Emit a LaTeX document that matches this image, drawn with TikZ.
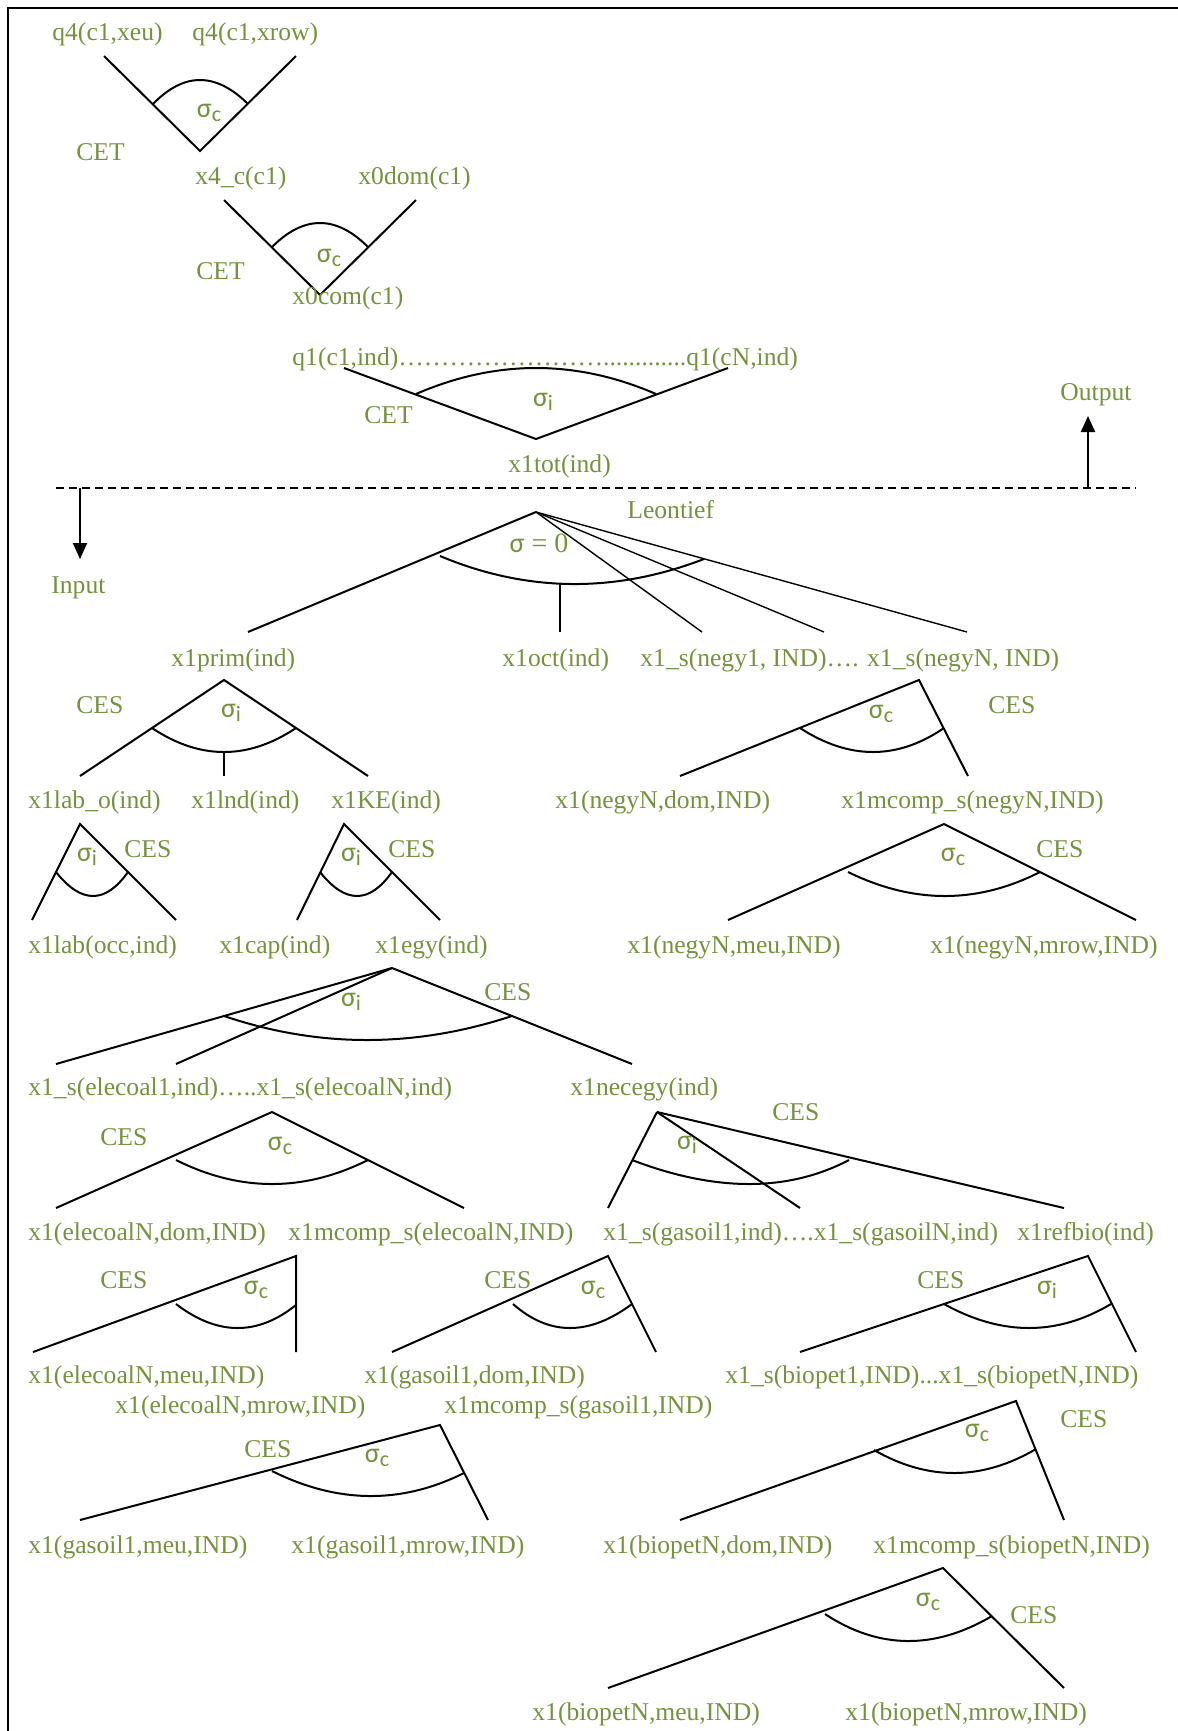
\documentclass[tikz,border=0pt]{standalone}
\usepackage{fontspec}
\setmainfont{Liberation Serif}
\newfontfamily\sigf{Carlito}
\usetikzlibrary{calc,arrows.meta}
\definecolor{lblgreen}{HTML}{76923C}
\newcommand{\sg}[1]{{\sigf\fontsize{14}{14}\selectfont σ\raisebox{-2pt}{\fontsize{11}{11}\selectfont #1}}}
\newcommand{\ellfour}{…\kern0pt…\kern0pt…\kern0pt…}
% arc helper: name, end A, end B, extreme point T
\newcommand{\sarc}[4]{%
  \coordinate (#1a) at #2; \coordinate (#1b) at #3; \coordinate (#1t) at #4;
  \coordinate (#1m) at ($(#1a)!0.5!(#1b)$);
  \coordinate (#1c) at ($(#1t)!-1!(#1m)$);
  \draw[tree] (#1a) .. controls ($(#1a)!0.6667!(#1c)$) and ($(#1b)!0.6667!(#1c)$) .. (#1b);}
\begin{document}
\begin{tikzpicture}[x=0.5pt,y=-0.5pt,
  lbl/.style={text=lblgreen,font=\fontsize{12.8}{14}\selectfont,inner sep=0pt,anchor=base west},
  sig/.style={text=lblgreen,inner sep=0pt,anchor=center},
  tree/.style={line width=1pt,black},
  border/.style={line width=1pt,black},
  arr/.style={line width=1pt,-{Triangle[length=8pt,width=7pt]}},
  dline/.style={line width=1pt,dash pattern=on 4pt off 2.5pt}]
\useasboundingbox (0,0) rectangle (1178,1731);
\coordinate (fbl) at (7.5,1731); \coordinate (ftl) at (7.5,7.5); \coordinate (ftr) at (1178,7.5);
\draw[border] (fbl) -- (ftl) -- (ftr);

% ---------- top CET nests ----------
\node[lbl] (q4eu) at (52,40) {q4(c1,xeu)};
\node[lbl] (q4row) at (192,40) {q4(c1,xrow)};
\coordinate (v1l) at (104,56); \coordinate (v1b) at (200,151); \coordinate (v1r) at (296,56);
\draw[tree] (v1l) -- (v1b) -- (v1r);
\sarc{a1}{(153,104)}{(248,104)}{(200,80)}
\node[sig] (s1) at (209,113) {\sg{c}};
\node[lbl] (cet1) at (76,160) {CET};

\node[lbl] (x4c) at (195,184) {x4\_c(c1)};
\node[lbl] (x0dom) at (358,184) {x0dom(c1)};
\coordinate (v2l) at (224,200); \coordinate (v2b) at (320,295); \coordinate (v2r) at (416,200);
\draw[tree] (v2l) -- (v2b) -- (v2r);
\sarc{a2}{(272,247)}{(368,247)}{(320,223)}
\node[sig] (s2) at (329,258) {\sg{c}};
\node[lbl] (cet2) at (196,279) {CET};
\node[lbl] (x0com) at (292,304) {x0com(c1)};

\node[lbl] (q1) at (292,365) {q1(c1,ind)\ellfour\ellfour.............q1(cN,ind)};
\coordinate (v3l) at (344,368); \coordinate (v3b) at (536,439); \coordinate (v3r) at (728,368);
\draw[tree] (v3l) -- (v3b) -- (v3r);
\sarc{a3}{(416,394)}{(656,394)}{(536,368)}
\node[sig] (s3) at (543,402) {\sg{i}};
\node[lbl] (cet3) at (364,423) {CET};
\node[lbl] (x1tot) at (508,472) {x1tot(ind)};

% ---------- separator ----------
\node[lbl] (outp) at (1060,400) {Output};
\coordinate (dl) at (56,488); \coordinate (dr) at (1136,488);
\draw[dline] (dl) -- (dr);
\coordinate (outb) at (1088,488); \coordinate (outt) at (1088,416);
\draw[arr] (outb) -- (outt);
\coordinate (inb) at (80,488); \coordinate (int) at (80,559);
\draw[arr] (inb) -- (int);
\node[lbl] (inp) at (51,593) {Input};

% ---------- Leontief ----------
\node[lbl] (leon) at (627,518) {Leontief};
\coordinate (lap) at (536,512);
\coordinate (le1) at (248,632); \coordinate (le3) at (702,632);
\coordinate (le4) at (824,632); \coordinate (le5) at (967,632);
\draw[tree] (lap) -- (le1);
\draw[line width=0.7pt] (lap) -- (le3);
\draw[line width=0.7pt] (lap) -- (le4);
\draw[line width=0.7pt] (lap) -- (le5);
\sarc{a4}{(440,556)}{(704,559)}{(571,584)}
\coordinate (lo1) at (560,584); \coordinate (lo2) at (560,632);
\draw[tree] (lo1) -- (lo2);
\node[sig,font=\fontsize{14}{14}\selectfont] (s4) at (539,543) {{\sigf σ} = 0};

\node[lbl] (x1prim) at (171,666) {x1prim(ind)};
\node[lbl] (x1oct) at (502,666) {x1oct(ind)};
\node[lbl] (negy) at (640,666) {x1\_s(negy1, IND)…. x1\_s(negyN, IND)};

% ---------- x1prim ----------
\coordinate (pa) at (224,680); \coordinate (pl) at (80,776); \coordinate (pr) at (368,776);
\draw[tree] (pl) -- (pa) -- (pr);
\sarc{a5}{(152,728)}{(296,728)}{(224,752)}
\coordinate (pm1) at (224,752); \coordinate (pm2) at (224,776);
\draw[tree] (pm1) -- (pm2);
\node[sig] (s5) at (231,713) {\sg{i}};
\node[lbl] (ces5) at (76,713) {CES};

% ---------- negyN ----------
\coordinate (na) at (919,680); \coordinate (nl) at (680,776); \coordinate (nr) at (968,776);
\draw[tree] (nl) -- (na) -- (nr);
\sarc{a6}{(800,728)}{(944,728)}{(873,752)}
\node[sig] (s6) at (881,714) {\sg{c}};
\node[lbl] (ces6) at (988,713) {CES};

\node[lbl] (x1labo) at (28,808) {x1lab\_o(ind)};
\node[lbl] (x1lnd) at (191,808) {x1lnd(ind)};
\node[lbl] (x1ke) at (331,808) {x1KE(ind)};
\node[lbl] (ndom) at (555,808) {x1(negyN,dom,IND)};
\node[lbl] (nmcomp) at (841,808) {x1mcomp\_s(negyN,IND)};

% small trees
\coordinate (t1a) at (80,824); \coordinate (t1l) at (32,920); \coordinate (t1r) at (176,920);
\draw[tree] (t1l) -- (t1a) -- (t1r);
\sarc{a7}{(56,872)}{(128,872)}{(93,896)}
\node[sig] (s7) at (87,857) {\sg{i}};
\node[lbl] (ces7) at (124,857) {CES};

\coordinate (t2a) at (344,824); \coordinate (t2l) at (297,920); \coordinate (t2r) at (440,920);
\draw[tree] (t2l) -- (t2a) -- (t2r);
\sarc{a8}{(320,872)}{(392,872)}{(357,896)}
\node[sig] (s8) at (351,857) {\sg{i}};
\node[lbl] (ces8) at (388,857) {CES};

\coordinate (t3a) at (944,824); \coordinate (t3l) at (728,920); \coordinate (t3r) at (1136,920);
\draw[tree] (t3l) -- (t3a) -- (t3r);
\sarc{a9}{(848,872)}{(1040,872)}{(945,896)}
\node[sig] (s9) at (953,857) {\sg{c}};
\node[lbl] (ces9) at (1036,857) {CES};

\node[lbl] (x1lab) at (28,953) {x1lab(occ,ind)};
\node[lbl] (x1cap) at (219,953) {x1cap(ind)};
\node[lbl] (x1egy) at (375,953) {x1egy(ind)};
\node[lbl] (nmeu) at (627,953) {x1(negyN,meu,IND)};
\node[lbl] (nmrow) at (930,953) {x1(negyN,mrow,IND)};

% ---------- x1egy ----------
\coordinate (ea) at (392,968); \coordinate (e1) at (56,1064); \coordinate (e2) at (176,1064); \coordinate (e3) at (632,1064);
\draw[tree] (ea) -- (e1); \draw[tree] (ea) -- (e2); \draw[tree] (ea) -- (e3);
\sarc{a10}{(224,1016)}{(512,1016)}{(367,1040)}
\node[sig] (s10) at (351,1002) {\sg{i}};
\node[lbl] (ces10) at (484,1000) {CES};

\node[lbl] (elec) at (28,1095) {x1\_s(elecoal1,ind)…..x1\_s(elecoalN,ind)};
\node[lbl] (neceg) at (570,1095) {x1necegy(ind)};

% ---------- elecoal ----------
\coordinate (ca) at (272,1112); \coordinate (cl) at (56,1208); \coordinate (cr) at (464,1208);
\draw[tree] (cl) -- (ca) -- (cr);
\sarc{a11}{(176,1160)}{(368,1160)}{(272,1184)}
\node[sig] (s11) at (280,1146) {\sg{c}};
\node[lbl] (ces11) at (100,1145) {CES};

% ---------- necegy ----------
\coordinate (ga) at (657,1112); \coordinate (g1) at (608,1208); \coordinate (g2) at (800,1208); \coordinate (g3) at (1064,1208);
\draw[tree] (ga) -- (g1); \draw[tree] (ga) -- (g2); \draw[tree] (ga) -- (g3);
\sarc{a12}{(632,1160)}{(849,1160)}{(749,1184)}
\node[sig] (s12) at (687,1145) {\sg{i}};
\node[lbl] (ces12) at (772,1120) {CES};

\node[lbl] (edom) at (28,1240) {x1(elecoalN,dom,IND)};
\node[lbl] (emcomp) at (288,1240) {x1mcomp\_s(elecoalN,IND)};
\node[lbl] (gas) at (603,1240) {x1\_s(gasoil1,ind)….x1\_s(gasoilN,ind)};
\node[lbl] (refbio) at (1017,1240) {x1refbio(ind)};

% elecoalN dom
\coordinate (da) at (296,1256); \coordinate (dl2) at (33,1352); \coordinate (dr2) at (296,1352);
\draw[tree] (dl2) -- (da) -- (dr2);
\sarc{a13}{(176,1304)}{(296,1305)}{(237,1328)}
\node[sig] (s13) at (256,1290) {\sg{c}};
\node[lbl] (ces13) at (100,1288) {CES};

% gasoil1 dom
\coordinate (oa) at (608,1256); \coordinate (ol) at (392,1352); \coordinate (or) at (656,1352);
\draw[tree] (ol) -- (oa) -- (or);
\sarc{a14}{(513,1304)}{(632,1304)}{(570,1328)}
\node[sig] (s14) at (593,1290) {\sg{c}};
\node[lbl] (ces14) at (484,1288) {CES};

% refbio
\coordinate (ra) at (1088,1256); \coordinate (rl) at (800,1352); \coordinate (rr) at (1136,1352);
\draw[tree] (rl) -- (ra) -- (rr);
\sarc{a15}{(944,1304)}{(1111,1304)}{(1029,1328)}
\node[sig] (s15) at (1047,1290) {\sg{i}};
\node[lbl] (ces15) at (917,1288) {CES};

\node[lbl] (emeu) at (28,1383) {x1(elecoalN,meu,IND)};
\node[lbl] (gdom) at (364,1383) {x1(gasoil1,dom,IND)};
\node[lbl] (biop) at (725,1383) {x1\_s(biopet1,IND)...x1\_s(biopetN,IND)};
\node[lbl] (emrow) at (115,1413) {x1(elecoalN,mrow,IND)};
\node[lbl] (gmcomp) at (444,1413) {x1mcomp\_s(gasoil1,IND)};

% gasoil1 mcomp
\coordinate (ma) at (440,1425); \coordinate (ml) at (80,1520); \coordinate (mr) at (488,1520);
\draw[tree] (ml) -- (ma) -- (mr);
\sarc{a16}{(272,1471)}{(464,1473)}{(369,1496)}
\node[sig] (s16) at (377,1458) {\sg{c}};
\node[lbl] (ces16) at (244,1457) {CES};

% biopetN dom
\coordinate (ba) at (1016,1401); \coordinate (bl) at (680,1520); \coordinate (br) at (1064,1520);
\draw[tree] (bl) -- (ba) -- (br);
\sarc{a17}{(874,1450)}{(1036,1449)}{(955,1473)}
\node[sig] (s17) at (977,1433) {\sg{c}};
\node[lbl] (ces17) at (1060,1427) {CES};

\node[lbl] (gmeu) at (28,1553) {x1(gasoil1,meu,IND)};
\node[lbl] (gmrow) at (291,1553) {x1(gasoil1,mrow,IND)};
\node[lbl] (bdom) at (603,1553) {x1(biopetN,dom,IND)};
\node[lbl] (bmcomp) at (873,1553) {x1mcomp\_s(biopetN,IND)};

% biopetN mcomp
\coordinate (ka) at (943,1568); \coordinate (kl) at (608,1688); \coordinate (kr) at (1064,1688);
\draw[tree] (kl) -- (ka) -- (kr);
\sarc{a18}{(825,1614)}{(992,1616)}{(907,1641)}
\node[sig] (s18) at (928,1602) {\sg{c}};
\node[lbl] (ces18) at (1010,1623) {CES};

\node[lbl] (bmeu) at (532,1720) {x1(biopetN,meu,IND)};
\node[lbl] (bmrow) at (845,1720) {x1(biopetN,mrow,IND)};
\end{tikzpicture}
\end{document}
